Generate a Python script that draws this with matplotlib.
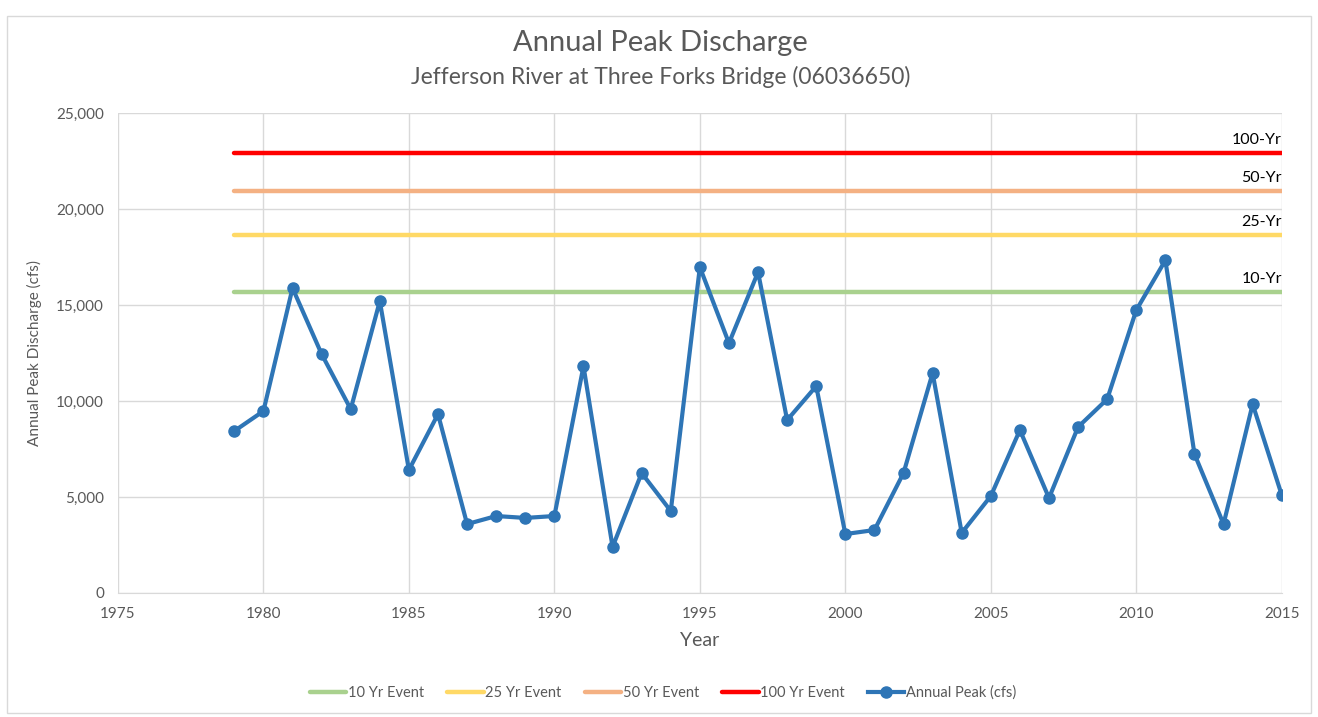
import matplotlib.pyplot as plt
from matplotlib.ticker import FuncFormatter

years = list(range(1979, 2016))
peaks = [8440, 9480, 15890, 12450, 9580, 15210, 6410, 9320, 3590, 4010,
         3910, 4010, 11820, 2400, 6250, 4270, 16980, 13020, 16720, 9010,
         10780, 3070, 3280, 6250, 11460, 3130, 5050, 8490, 4950, 8650,
         10100, 14740, 17340, 7240, 3590, 9840, 5100]

event_names = ['10 Yr Event', '25 Yr Event', '50 Yr Event', '100 Yr Event']
event_tags = ['10-Yr', '25-Yr', '50-Yr', '100-Yr']
event_values = [15680, 18650, 20940, 22920]
event_colors = ['#A9D18E', '#FFD966', '#F4B183', '#FF0000']

plt.rcParams['font.family'] = ['Lato', 'DejaVu Sans']

fig = plt.figure(figsize=(13.18, 7.17), dpi=100)
ax = fig.add_axes([0.0895, 0.173, 0.883, 0.669])

for name, val, col in zip(event_names, event_values, event_colors):
    ax.plot([years[0], years[-1]], [val, val], color=col, lw=3.2,
            solid_capstyle='round', label=name)

ax.plot(years, peaks, color='#2E75B6', lw=3, marker='o', markersize=8,
        label='Annual Peak (cfs)')

for tag, val in zip(event_tags, event_values):
    ax.text(2015, val + 300, tag, ha='right', va='bottom', fontsize=11.5,
            color='black')

ax.set_xlim(1975, 2015)
ax.set_ylim(0, 25000)
ax.set_xticks(range(1975, 2016, 5))
ax.set_yticks(range(0, 25001, 5000))
ax.yaxis.set_major_formatter(FuncFormatter(lambda v, p: f'{int(v):,}'))
ax.grid(True, color='#D9D9D9', lw=1)
ax.set_axisbelow(True)
for s in ['top', 'right', 'left']:
    ax.spines[s].set_visible(False)
ax.spines['bottom'].set_color('#D9D9D9')
ax.tick_params(length=0, labelsize=11, colors='#595959', pad=10)

ax.set_xlabel('Year', fontsize=14, color='#595959', labelpad=8)
ax.set_ylabel('Annual Peak Discharge (cfs)', fontsize=11, color='#595959',
              labelpad=10)

fig.text(0.501, 0.94, 'Annual Peak Discharge', ha='center', va='center',
         fontsize=21, color='#595959')
fig.text(0.501, 0.892, 'Jefferson River at Three Forks Bridge (06036650)',
         ha='center', va='center', fontsize=16.5, color='#595959')

leg = fig.legend(loc='center', bbox_to_anchor=(0.503, 0.034), ncol=5,
                 frameon=False, fontsize=10.5, handlelength=2.5,
                 columnspacing=1.6, handletextpad=0.1)
for t in leg.get_texts():
    t.set_color('#595959')

border = plt.Rectangle((0.005, 0.005), 0.99, 0.972, transform=fig.transFigure,
                       fill=False, edgecolor='#D9D9D9', lw=1)
fig.patches.append(border)

fig.savefig('out.png', dpi=100)
